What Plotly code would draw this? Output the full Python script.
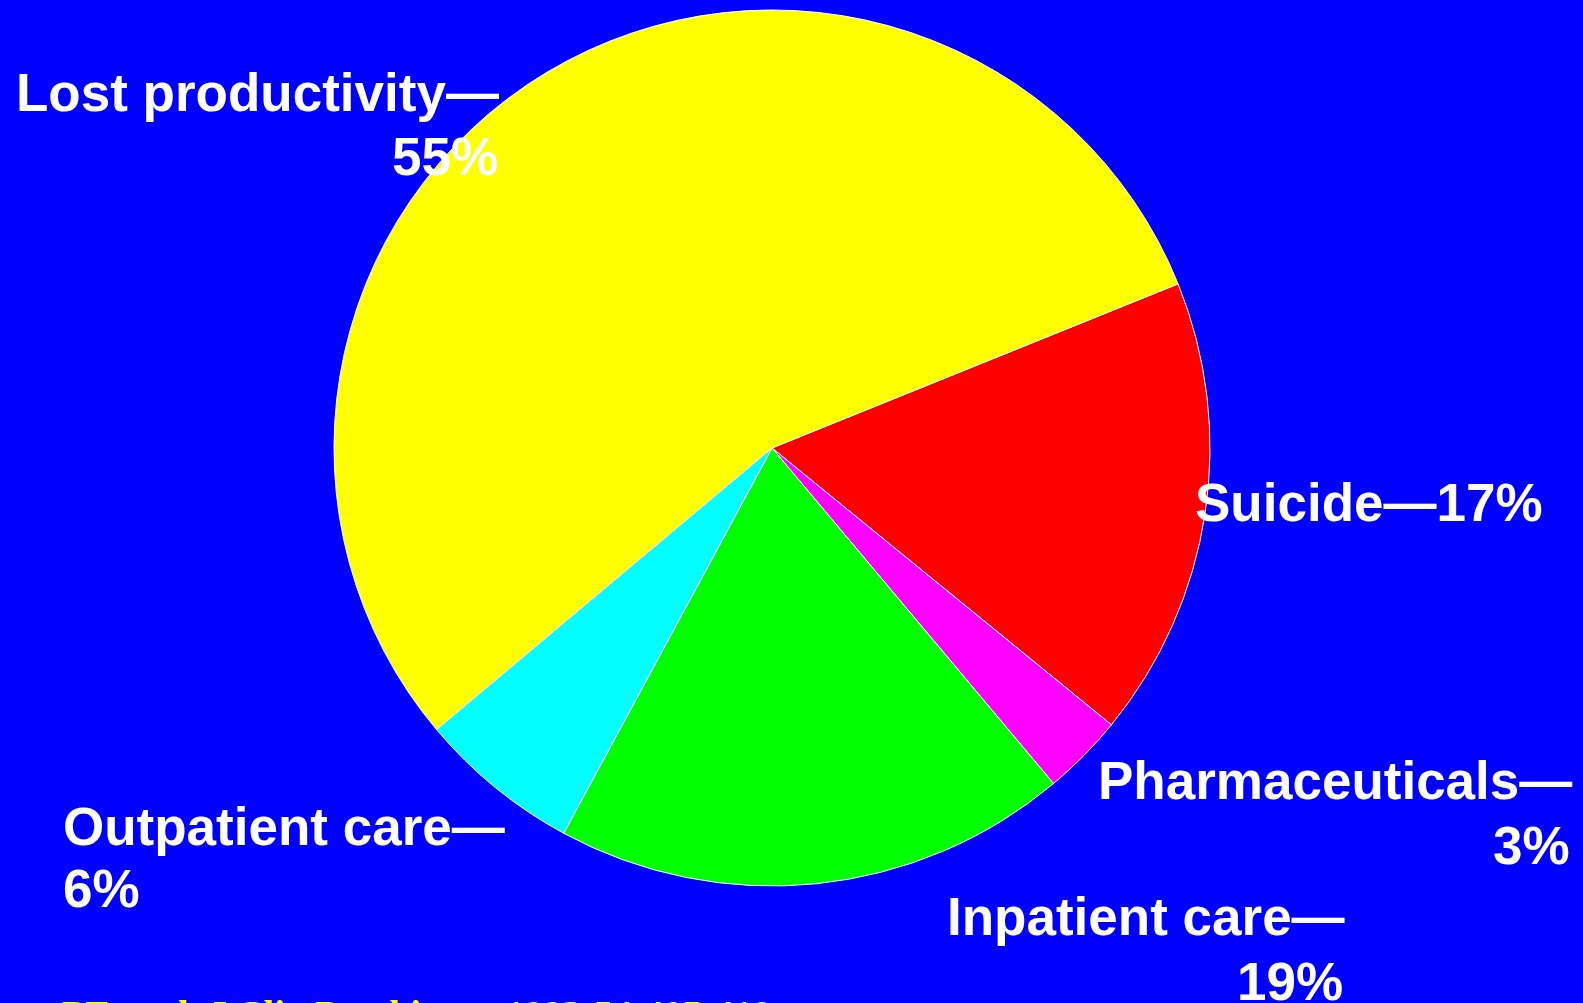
import plotly.graph_objects as go

W, H = 1583, 1003

# Data
categories = ["Suicide", "Pharmaceuticals", "Inpatient care", "Outpatient care", "Lost productivity"]
values = [17, 3, 19, 6, 55]
colors = ["#FF0000", "#FF00FF", "#00FF00", "#00FFFF", "#FFFF00"]
label_texts = ["Suicide—17%", "Pharmaceuticals—", "Inpatient care—", "Outpatient care—", "Lost productivity—"]
pct_texts = ["", "3%", "19%", "6%", "55%"]
citation = "PE et al. J Clin Psychiatry. 1993;54:405-418."

# pie geometry (pixels)
cx, cy, r = 772, 448, 438

fig = go.Figure(go.Pie(
    labels=categories,
    values=values,
    sort=False,
    direction="clockwise",
    rotation=68,
    marker=dict(colors=colors, line=dict(color="white", width=1)),
    textinfo="none",
    hoverinfo="label+percent",
    showlegend=False,
    domain=dict(x=[(cx - r) / W, (cx + r) / W],
                y=[1 - (cy + r) / H, 1 - (cy - r) / H]),
))

FS = 53
FONT = dict(family="Liberation Sans, Arial, sans-serif", size=FS, color="white")

def add_text(text, px, baseline, anchor):
    mid = baseline - 0.32 * FS
    fig.add_annotation(text="<b>" + text + "</b>", xref="paper", yref="paper",
                       x=px / W, y=1 - mid / H, xanchor=anchor, yanchor="middle",
                       showarrow=False, font=FONT, borderpad=0)

# label lines: (text, x pixel, baseline pixel, anchor)
add_text(label_texts[4], 15, 109, "left")
add_text(pct_texts[4], 499, 173, "right")
add_text(label_texts[0], 1194, 519, "left")
add_text(label_texts[1], 1573, 797, "right")
add_text(pct_texts[1], 1571, 862, "right")
add_text(label_texts[2], 1346, 933, "right")
add_text(pct_texts[2], 1344, 998, "right")
add_text(label_texts[3], 62, 843, "left")
add_text(pct_texts[3], 62, 905, "left")

CS = 38
fig.add_annotation(text="<b>" + citation + "</b>", xref="paper", yref="paper",
                   x=61 / W, y=1 - (1027 - 0.34 * CS) / H, xanchor="left", yanchor="middle",
                   showarrow=False, borderpad=0,
                   font=dict(family="Liberation Serif, Times New Roman, serif", size=CS, color="#FFFF00"))

fig.update_layout(
    width=W, height=H,
    margin=dict(l=0, r=0, t=0, b=0),
    paper_bgcolor="#0000FF",
    plot_bgcolor="#0000FF",
)

fig.write_html("out.html", config={"displayModeBar": False},
               post_script="document.body.style.margin='0';document.body.style.overflow='hidden';document.body.style.background='#0000FF';")
